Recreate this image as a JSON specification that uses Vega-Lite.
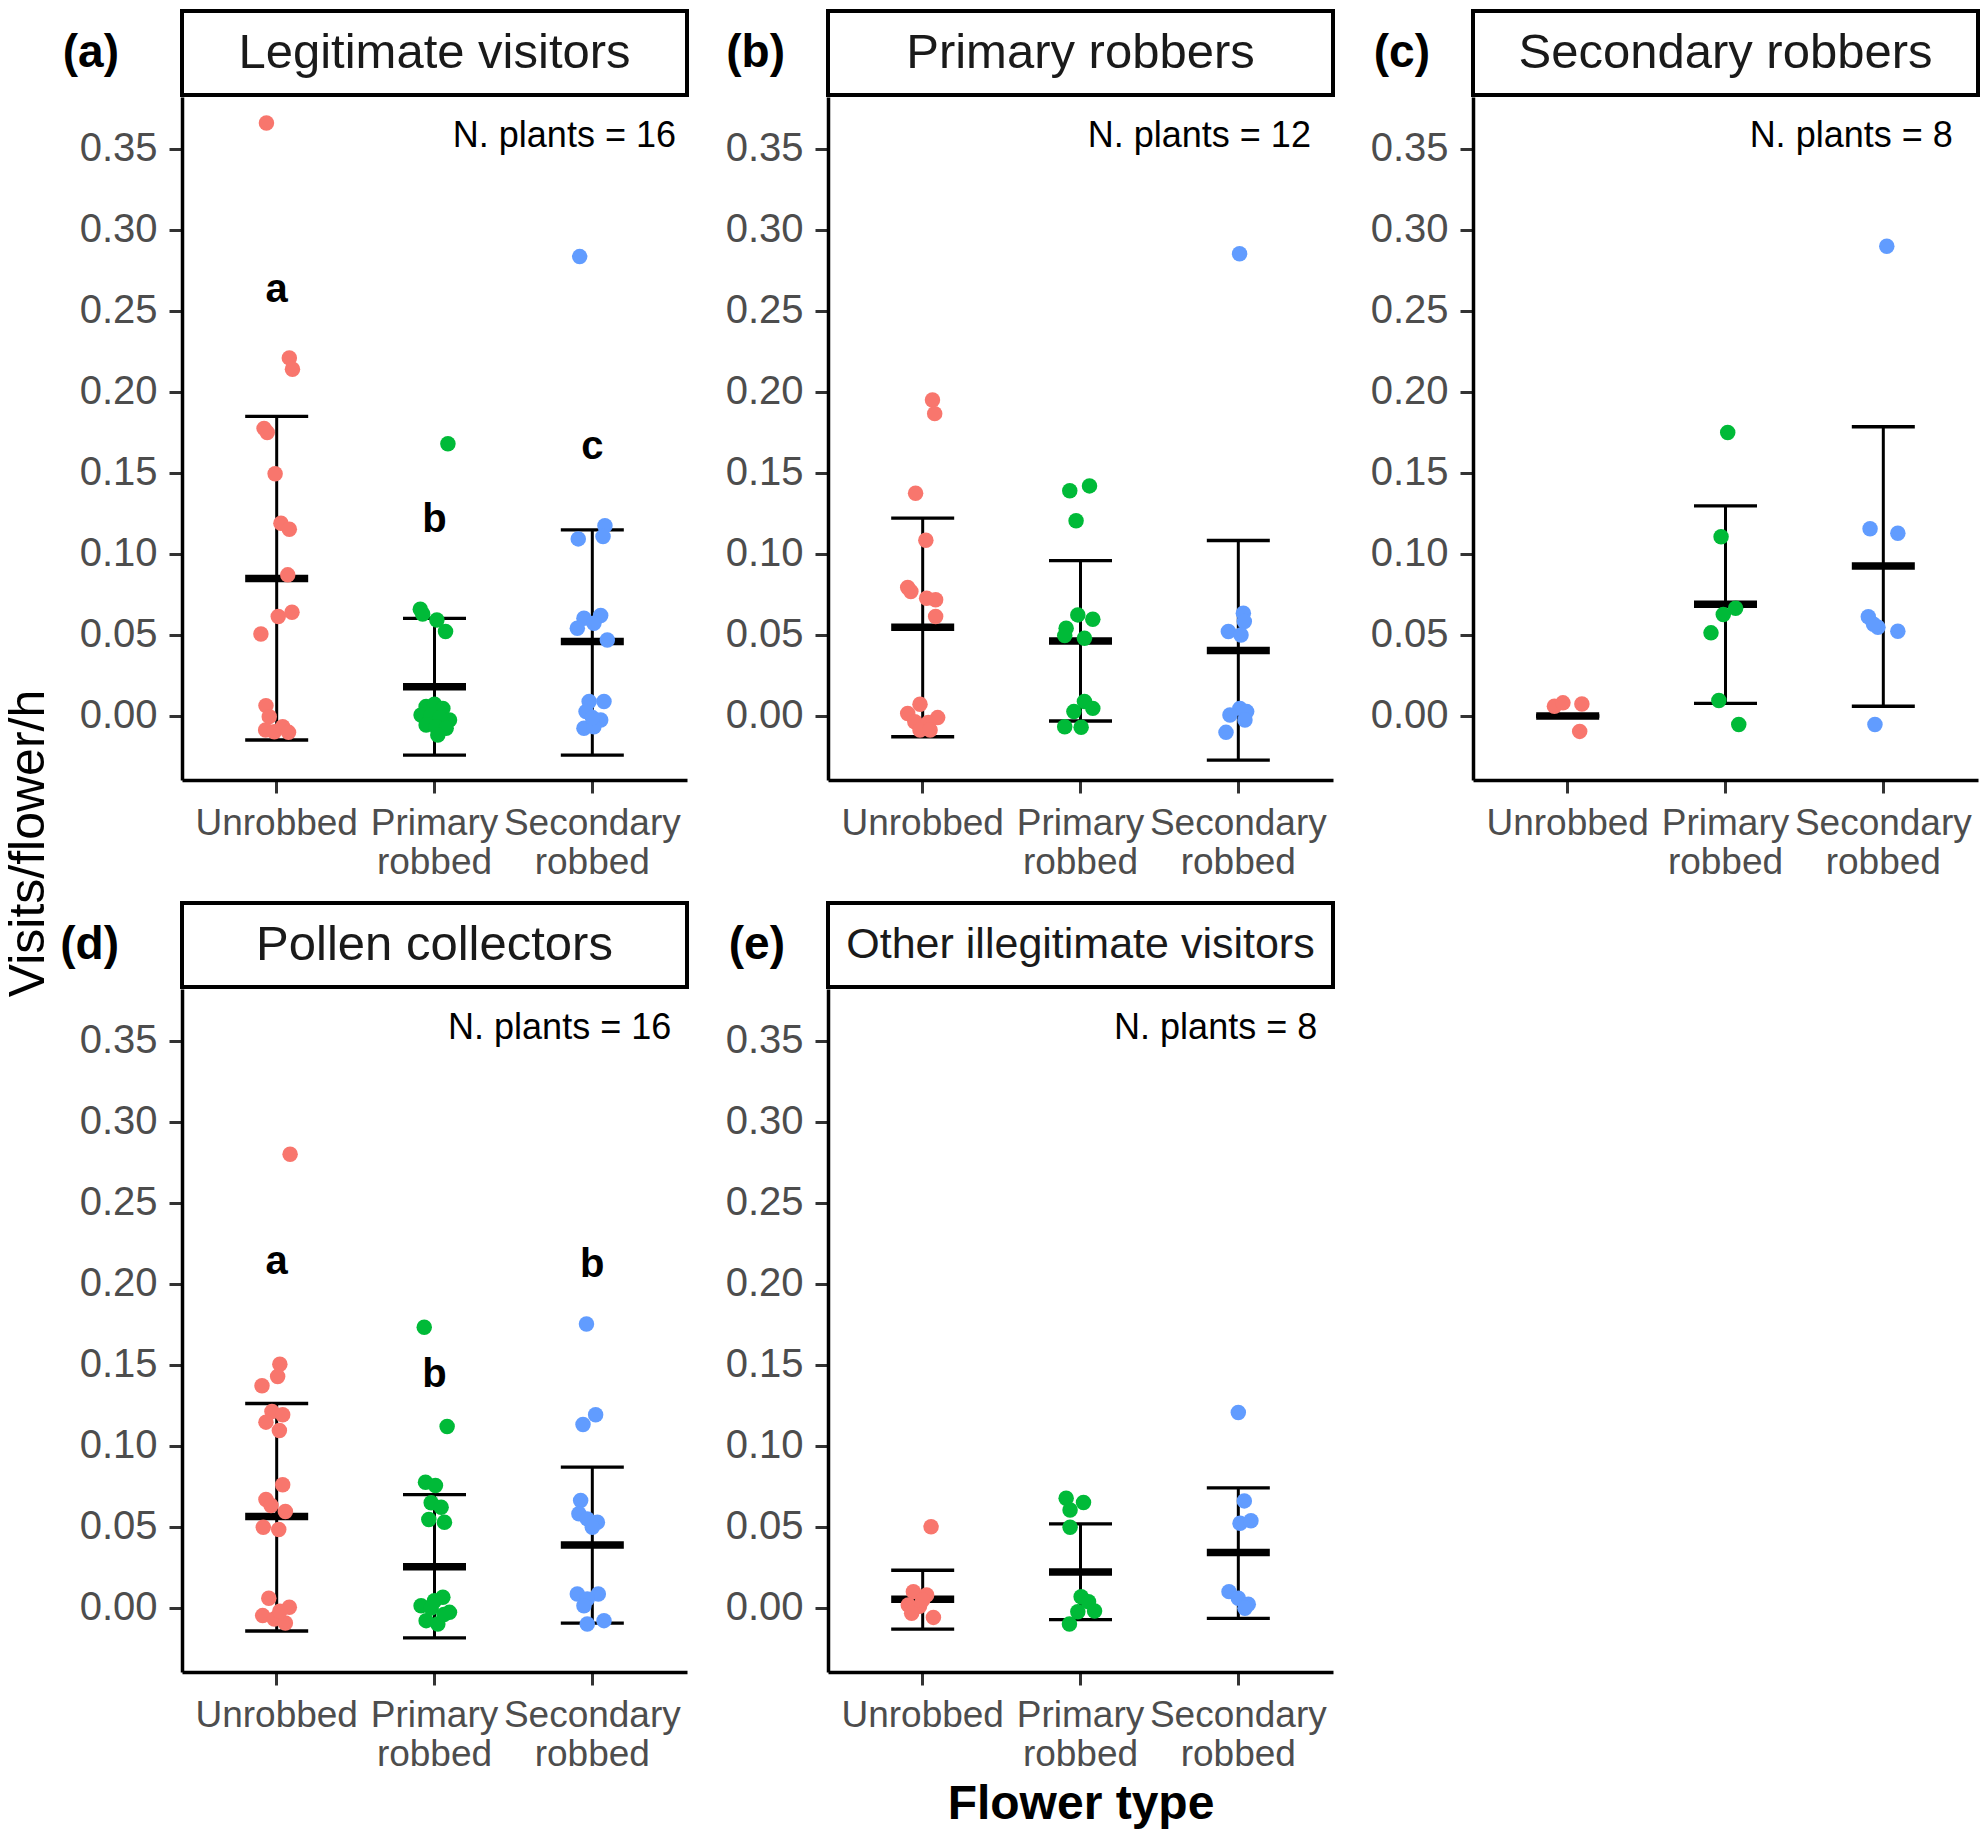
{
  "$schema": "https://vega.github.io/schema/vega-lite/v6.json",
  "padding": {"left": 4, "top": 9, "right": 5, "bottom": 5},
  "background": "white",
  "title": {"text": "Visits/flower/h", "orient": "left", "anchor": "middle", "fontSize": 50, "fontWeight": "normal", "font": "Liberation Sans", "color": "black", "offset": 4, "dx": 75},
  "datasets": {
    "strips": [
      {"p": "a", "strip": "Legitimate visitors", "n": "N. plants = 16"},
      {"p": "b", "strip": "Primary robbers", "n": "N. plants = 12"},
      {"p": "c", "strip": "Secondary robbers", "n": "N. plants = 8"},
      {"p": "d", "strip": "Pollen collectors", "n": "N. plants = 16"},
      {"p": "e", "strip": "Other illegitimate visitors", "n": "N. plants = 8"}
    ],
    "let": [
      {"p": "a", "type": "Unrobbed", "letter": "a", "ly": 0.263},
      {"p": "a", "type": "Primary robbed", "letter": "b", "ly": 0.121},
      {"p": "a", "type": "Secondary robbed", "letter": "c", "ly": 0.1657},
      {"p": "d", "type": "Unrobbed", "letter": "a", "ly": 0.2136},
      {"p": "d", "type": "Primary robbed", "letter": "b", "ly": 0.144},
      {"p": "d", "type": "Secondary robbed", "letter": "b", "ly": 0.2117}
    ],
    "sum": [
      {"p": "a", "type": "Unrobbed", "mean": 0.0848, "lo": -0.0148, "hi": 0.1849},
      {"p": "a", "type": "Primary robbed", "mean": 0.0181, "lo": -0.0241, "hi": 0.0603},
      {"p": "a", "type": "Secondary robbed", "mean": 0.0459, "lo": -0.0241, "hi": 0.1149},
      {"p": "b", "type": "Unrobbed", "mean": 0.0548, "lo": -0.0128, "hi": 0.1221},
      {"p": "b", "type": "Primary robbed", "mean": 0.0463, "lo": -0.0031, "hi": 0.0959},
      {"p": "b", "type": "Secondary robbed", "mean": 0.0404, "lo": -0.0272, "hi": 0.1083},
      {"p": "c", "type": "Unrobbed", "mean": 0.0, "lo": 0.0, "hi": 0.0},
      {"p": "c", "type": "Primary robbed", "mean": 0.0689, "lo": 0.0078, "hi": 0.1297},
      {"p": "c", "type": "Secondary robbed", "mean": 0.0926, "lo": 0.006, "hi": 0.1785},
      {"p": "d", "type": "Unrobbed", "mean": 0.0564, "lo": -0.0142, "hi": 0.1262},
      {"p": "d", "type": "Primary robbed", "mean": 0.0255, "lo": -0.0185, "hi": 0.07},
      {"p": "d", "type": "Secondary robbed", "mean": 0.0389, "lo": -0.0093, "hi": 0.0869},
      {"p": "e", "type": "Unrobbed", "mean": 0.0054, "lo": -0.013, "hi": 0.0233},
      {"p": "e", "type": "Primary robbed", "mean": 0.0222, "lo": -0.0072, "hi": 0.0519},
      {"p": "e", "type": "Secondary robbed", "mean": 0.0342, "lo": -0.0064, "hi": 0.0741}
    ],
    "pts": [
      {"p": "a", "type": "Unrobbed", "v": 0.366, "j": -0.065},
      {"p": "a", "type": "Unrobbed", "v": 0.221, "j": 0.08},
      {"p": "a", "type": "Unrobbed", "v": 0.214, "j": 0.10},
      {"p": "a", "type": "Unrobbed", "v": 0.1775, "j": -0.08},
      {"p": "a", "type": "Unrobbed", "v": 0.175, "j": -0.06},
      {"p": "a", "type": "Unrobbed", "v": 0.1495, "j": -0.01},
      {"p": "a", "type": "Unrobbed", "v": 0.119, "j": 0.027},
      {"p": "a", "type": "Unrobbed", "v": 0.1153, "j": 0.08},
      {"p": "a", "type": "Unrobbed", "v": 0.0871, "j": 0.07},
      {"p": "a", "type": "Unrobbed", "v": 0.064, "j": 0.097},
      {"p": "a", "type": "Unrobbed", "v": 0.0614, "j": 0.01},
      {"p": "a", "type": "Unrobbed", "v": 0.0506, "j": -0.1},
      {"p": "a", "type": "Unrobbed", "v": 0.0064, "j": -0.068},
      {"p": "a", "type": "Unrobbed", "v": -0.0004, "j": -0.047},
      {"p": "a", "type": "Unrobbed", "v": -0.0086, "j": -0.07},
      {"p": "a", "type": "Unrobbed", "v": -0.0097, "j": -0.015},
      {"p": "a", "type": "Unrobbed", "v": -0.0066, "j": 0.038},
      {"p": "a", "type": "Unrobbed", "v": -0.0101, "j": 0.075},
      {"p": "a", "type": "Primary robbed", "v": 0.168, "j": 0.085},
      {"p": "a", "type": "Primary robbed", "v": 0.0659, "j": -0.09},
      {"p": "a", "type": "Primary robbed", "v": 0.063, "j": -0.075},
      {"p": "a", "type": "Primary robbed", "v": 0.0593, "j": 0.015},
      {"p": "a", "type": "Primary robbed", "v": 0.0521, "j": 0.07},
      {"p": "a", "type": "Primary robbed", "v": 0.0058, "j": -0.053},
      {"p": "a", "type": "Primary robbed", "v": 0.0072, "j": 0.0},
      {"p": "a", "type": "Primary robbed", "v": 0.0047, "j": 0.053},
      {"p": "a", "type": "Primary robbed", "v": 0.0006, "j": -0.085},
      {"p": "a", "type": "Primary robbed", "v": 0.0006, "j": -0.021},
      {"p": "a", "type": "Primary robbed", "v": -0.0025, "j": 0.095},
      {"p": "a", "type": "Primary robbed", "v": -0.0014, "j": 0.032},
      {"p": "a", "type": "Primary robbed", "v": -0.0056, "j": -0.053},
      {"p": "a", "type": "Primary robbed", "v": -0.0066, "j": 0.01},
      {"p": "a", "type": "Primary robbed", "v": -0.0076, "j": 0.074},
      {"p": "a", "type": "Primary robbed", "v": -0.0117, "j": 0.021},
      {"p": "a", "type": "Secondary robbed", "v": 0.2835, "j": -0.08},
      {"p": "a", "type": "Secondary robbed", "v": 0.1174, "j": 0.08},
      {"p": "a", "type": "Secondary robbed", "v": 0.1108, "j": 0.068},
      {"p": "a", "type": "Secondary robbed", "v": 0.1093, "j": -0.089},
      {"p": "a", "type": "Secondary robbed", "v": 0.062, "j": 0.053},
      {"p": "a", "type": "Secondary robbed", "v": 0.0603, "j": -0.053},
      {"p": "a", "type": "Secondary robbed", "v": 0.0572, "j": 0.01},
      {"p": "a", "type": "Secondary robbed", "v": 0.0541, "j": -0.095},
      {"p": "a", "type": "Secondary robbed", "v": 0.0469, "j": 0.095},
      {"p": "a", "type": "Secondary robbed", "v": 0.0089, "j": -0.02},
      {"p": "a", "type": "Secondary robbed", "v": 0.0089, "j": 0.074},
      {"p": "a", "type": "Secondary robbed", "v": 0.0027, "j": -0.04},
      {"p": "a", "type": "Secondary robbed", "v": -0.0025, "j": 0.053},
      {"p": "a", "type": "Secondary robbed", "v": -0.0076, "j": -0.053},
      {"p": "a", "type": "Secondary robbed", "v": -0.0066, "j": 0.01},
      {"p": "a", "type": "Secondary robbed", "v": -0.001, "j": 0.0},
      {"p": "b", "type": "Unrobbed", "v": 0.195, "j": 0.062},
      {"p": "b", "type": "Unrobbed", "v": 0.1866, "j": 0.076},
      {"p": "b", "type": "Unrobbed", "v": 0.1375, "j": -0.045},
      {"p": "b", "type": "Unrobbed", "v": 0.1085, "j": 0.02},
      {"p": "b", "type": "Unrobbed", "v": 0.0793, "j": -0.095},
      {"p": "b", "type": "Unrobbed", "v": 0.0768, "j": -0.075},
      {"p": "b", "type": "Unrobbed", "v": 0.0727, "j": 0.025},
      {"p": "b", "type": "Unrobbed", "v": 0.0717, "j": 0.082},
      {"p": "b", "type": "Unrobbed", "v": 0.0614, "j": 0.082},
      {"p": "b", "type": "Unrobbed", "v": 0.0072, "j": -0.017},
      {"p": "b", "type": "Unrobbed", "v": 0.0016, "j": -0.095},
      {"p": "b", "type": "Unrobbed", "v": -0.001, "j": 0.095},
      {"p": "b", "type": "Unrobbed", "v": -0.0035, "j": -0.05},
      {"p": "b", "type": "Unrobbed", "v": -0.004, "j": 0.036},
      {"p": "b", "type": "Unrobbed", "v": -0.0086, "j": -0.017},
      {"p": "b", "type": "Unrobbed", "v": -0.0086, "j": 0.047},
      {"p": "b", "type": "Primary robbed", "v": 0.139, "j": -0.068},
      {"p": "b", "type": "Primary robbed", "v": 0.142, "j": 0.057},
      {"p": "b", "type": "Primary robbed", "v": 0.1205, "j": -0.028},
      {"p": "b", "type": "Primary robbed", "v": 0.0624, "j": -0.017},
      {"p": "b", "type": "Primary robbed", "v": 0.0597, "j": 0.078},
      {"p": "b", "type": "Primary robbed", "v": 0.0541, "j": -0.091},
      {"p": "b", "type": "Primary robbed", "v": 0.0496, "j": -0.1},
      {"p": "b", "type": "Primary robbed", "v": 0.048, "j": 0.025},
      {"p": "b", "type": "Primary robbed", "v": 0.0089, "j": 0.025},
      {"p": "b", "type": "Primary robbed", "v": 0.0047, "j": 0.078},
      {"p": "b", "type": "Primary robbed", "v": 0.0027, "j": -0.042},
      {"p": "b", "type": "Primary robbed", "v": -0.0066, "j": -0.1},
      {"p": "b", "type": "Primary robbed", "v": -0.007, "j": 0.004},
      {"p": "b", "type": "Secondary robbed", "v": 0.2853, "j": 0.008},
      {"p": "b", "type": "Secondary robbed", "v": 0.0634, "j": 0.032},
      {"p": "b", "type": "Secondary robbed", "v": 0.0583, "j": 0.038},
      {"p": "b", "type": "Secondary robbed", "v": 0.0521, "j": -0.063},
      {"p": "b", "type": "Secondary robbed", "v": 0.05, "j": 0.017},
      {"p": "b", "type": "Secondary robbed", "v": 0.0047, "j": 0.01},
      {"p": "b", "type": "Secondary robbed", "v": 0.0027, "j": 0.053},
      {"p": "b", "type": "Secondary robbed", "v": 0.0006, "j": -0.053},
      {"p": "b", "type": "Secondary robbed", "v": -0.0025, "j": 0.042},
      {"p": "b", "type": "Secondary robbed", "v": -0.0101, "j": -0.078},
      {"p": "c", "type": "Unrobbed", "v": 0.006, "j": -0.084},
      {"p": "c", "type": "Unrobbed", "v": 0.0081, "j": -0.03},
      {"p": "c", "type": "Unrobbed", "v": 0.0074, "j": 0.09},
      {"p": "c", "type": "Unrobbed", "v": -0.0095, "j": 0.076},
      {"p": "c", "type": "Primary robbed", "v": 0.175, "j": 0.014},
      {"p": "c", "type": "Primary robbed", "v": 0.1106, "j": -0.028},
      {"p": "c", "type": "Primary robbed", "v": 0.0665, "j": 0.064},
      {"p": "c", "type": "Primary robbed", "v": 0.0626, "j": -0.014},
      {"p": "c", "type": "Primary robbed", "v": 0.0513, "j": -0.092},
      {"p": "c", "type": "Primary robbed", "v": 0.0095, "j": -0.042},
      {"p": "c", "type": "Primary robbed", "v": -0.0053, "j": 0.084},
      {"p": "c", "type": "Secondary robbed", "v": 0.2899, "j": 0.022},
      {"p": "c", "type": "Secondary robbed", "v": 0.1156, "j": -0.084},
      {"p": "c", "type": "Secondary robbed", "v": 0.1128, "j": 0.092},
      {"p": "c", "type": "Secondary robbed", "v": 0.0612, "j": -0.095},
      {"p": "c", "type": "Secondary robbed", "v": 0.0548, "j": -0.034},
      {"p": "c", "type": "Secondary robbed", "v": 0.0566, "j": -0.062},
      {"p": "c", "type": "Secondary robbed", "v": 0.0523, "j": 0.092},
      {"p": "c", "type": "Secondary robbed", "v": -0.0053, "j": -0.053},
      {"p": "d", "type": "Unrobbed", "v": 0.28, "j": 0.085},
      {"p": "d", "type": "Unrobbed", "v": 0.1504, "j": 0.02},
      {"p": "d", "type": "Unrobbed", "v": 0.1429, "j": 0.006},
      {"p": "d", "type": "Unrobbed", "v": 0.1372, "j": -0.093},
      {"p": "d", "type": "Unrobbed", "v": 0.1213, "j": -0.03},
      {"p": "d", "type": "Unrobbed", "v": 0.1192, "j": 0.038},
      {"p": "d", "type": "Unrobbed", "v": 0.1147, "j": -0.068},
      {"p": "d", "type": "Unrobbed", "v": 0.1095, "j": 0.017},
      {"p": "d", "type": "Unrobbed", "v": 0.076, "j": 0.038},
      {"p": "d", "type": "Unrobbed", "v": 0.0669, "j": -0.068},
      {"p": "d", "type": "Unrobbed", "v": 0.0632, "j": -0.036},
      {"p": "d", "type": "Unrobbed", "v": 0.0595, "j": 0.055},
      {"p": "d", "type": "Unrobbed", "v": 0.0498, "j": -0.085},
      {"p": "d", "type": "Unrobbed", "v": 0.0484, "j": 0.013},
      {"p": "d", "type": "Unrobbed", "v": 0.006, "j": -0.05},
      {"p": "d", "type": "Unrobbed", "v": 0.0004, "j": 0.08},
      {"p": "d", "type": "Unrobbed", "v": -0.0047, "j": -0.089},
      {"p": "d", "type": "Unrobbed", "v": -0.0068, "j": -0.015},
      {"p": "d", "type": "Unrobbed", "v": -0.0093, "j": 0.055},
      {"p": "d", "type": "Unrobbed", "v": -0.002, "j": 0.02},
      {"p": "d", "type": "Primary robbed", "v": 0.1733, "j": -0.065},
      {"p": "d", "type": "Primary robbed", "v": 0.112, "j": 0.08},
      {"p": "d", "type": "Primary robbed", "v": 0.0776, "j": -0.057},
      {"p": "d", "type": "Primary robbed", "v": 0.0756, "j": 0.006},
      {"p": "d", "type": "Primary robbed", "v": 0.0649, "j": -0.021},
      {"p": "d", "type": "Primary robbed", "v": 0.0622, "j": 0.042},
      {"p": "d", "type": "Primary robbed", "v": 0.0546, "j": -0.036},
      {"p": "d", "type": "Primary robbed", "v": 0.0529, "j": 0.063},
      {"p": "d", "type": "Primary robbed", "v": 0.0066, "j": 0.053},
      {"p": "d", "type": "Primary robbed", "v": 0.0014, "j": -0.085},
      {"p": "d", "type": "Primary robbed", "v": 0.0045, "j": 0.0},
      {"p": "d", "type": "Primary robbed", "v": -0.0027, "j": 0.095},
      {"p": "d", "type": "Primary robbed", "v": -0.0078, "j": -0.053},
      {"p": "d", "type": "Primary robbed", "v": -0.0099, "j": 0.021},
      {"p": "d", "type": "Primary robbed", "v": 0.0, "j": -0.021},
      {"p": "d", "type": "Primary robbed", "v": -0.004, "j": 0.06},
      {"p": "d", "type": "Secondary robbed", "v": 0.1752, "j": -0.037},
      {"p": "d", "type": "Secondary robbed", "v": 0.1192, "j": 0.021},
      {"p": "d", "type": "Secondary robbed", "v": 0.1132, "j": -0.059},
      {"p": "d", "type": "Secondary robbed", "v": 0.0663, "j": -0.074},
      {"p": "d", "type": "Secondary robbed", "v": 0.0581, "j": -0.085},
      {"p": "d", "type": "Secondary robbed", "v": 0.055, "j": -0.032},
      {"p": "d", "type": "Secondary robbed", "v": 0.0529, "j": 0.032},
      {"p": "d", "type": "Secondary robbed", "v": 0.0498, "j": 0.0},
      {"p": "d", "type": "Secondary robbed", "v": 0.0086, "j": -0.095},
      {"p": "d", "type": "Secondary robbed", "v": 0.0086, "j": 0.038},
      {"p": "d", "type": "Secondary robbed", "v": 0.0056, "j": -0.032},
      {"p": "d", "type": "Secondary robbed", "v": 0.0014, "j": -0.053},
      {"p": "d", "type": "Secondary robbed", "v": -0.0099, "j": -0.032},
      {"p": "d", "type": "Secondary robbed", "v": -0.0078, "j": 0.074},
      {"p": "e", "type": "Unrobbed", "v": 0.0502, "j": 0.053},
      {"p": "e", "type": "Unrobbed", "v": 0.0101, "j": -0.059},
      {"p": "e", "type": "Unrobbed", "v": 0.008, "j": 0.025},
      {"p": "e", "type": "Unrobbed", "v": 0.0019, "j": -0.091},
      {"p": "e", "type": "Unrobbed", "v": 0.001, "j": -0.02},
      {"p": "e", "type": "Unrobbed", "v": -0.0033, "j": -0.07},
      {"p": "e", "type": "Unrobbed", "v": -0.0058, "j": 0.068},
      {"p": "e", "type": "Unrobbed", "v": 0.005, "j": 0.0},
      {"p": "e", "type": "Primary robbed", "v": 0.0677, "j": -0.091},
      {"p": "e", "type": "Primary robbed", "v": 0.0651, "j": 0.019},
      {"p": "e", "type": "Primary robbed", "v": 0.0605, "j": -0.066},
      {"p": "e", "type": "Primary robbed", "v": 0.0498, "j": -0.066},
      {"p": "e", "type": "Primary robbed", "v": 0.007, "j": 0.004},
      {"p": "e", "type": "Primary robbed", "v": 0.0039, "j": 0.051},
      {"p": "e", "type": "Primary robbed", "v": -0.0019, "j": 0.089},
      {"p": "e", "type": "Primary robbed", "v": -0.0023, "j": -0.017},
      {"p": "e", "type": "Primary robbed", "v": -0.0099, "j": -0.07},
      {"p": "e", "type": "Secondary robbed", "v": 0.1207, "j": 0.0},
      {"p": "e", "type": "Secondary robbed", "v": 0.0661, "j": 0.038},
      {"p": "e", "type": "Secondary robbed", "v": 0.0523, "j": 0.011},
      {"p": "e", "type": "Secondary robbed", "v": 0.0539, "j": 0.08},
      {"p": "e", "type": "Secondary robbed", "v": 0.0101, "j": -0.059},
      {"p": "e", "type": "Secondary robbed", "v": 0.006, "j": 0.0},
      {"p": "e", "type": "Secondary robbed", "v": 0.0023, "j": 0.063},
      {"p": "e", "type": "Secondary robbed", "v": -0.0002, "j": 0.042}
    ]
  },
  "columns": 3,
  "align": "each",
  "spacing": {"row": 21, "column": 35},
  "concat": [
    {"spacing": 0, "vconcat": [
      {"width": 505, "height": 84, "data": {"name": "strips"}, "transform": [{"filter": "datum.p == 'a'"}],
       "view": {"stroke": "black", "strokeWidth": 4},
       "title": {"text": "(a)", "orient": "left", "angle": 0, "align": "left", "baseline": "middle", "anchor": "middle", "offset": 63, "fontSize": 46, "fontWeight": "bold", "color": "black"},
       "mark": {"type": "text", "fontSize": 49, "color": "#1A1A1A"},
       "encoding": {"text": {"field": "strip"}}},
      {"width": 505, "height": 683, "layer": [
        {"data": {"name": "sum"}, "transform": [{"filter": "datum.p == 'a'"}], "mark": {"type": "rule", "strokeWidth": 3, "color": "black"},
         "encoding": {"x": {"field": "type", "type": "nominal", "scale": {"domain": ["Unrobbed", "Primary robbed", "Secondary robbed"], "paddingInner": 0, "paddingOuter": 0.1}, "axis": {"title": null, "labelExpr": "split(datum.label, ' ')", "bandPosition": 0.5}},
          "y": {"field": "lo", "type": "quantitative", "title": null, "scale": {"domain": [-0.0395, 0.382], "nice": false, "zero": false}, "axis": {"values": [0, 0.05, 0.1, 0.15, 0.2, 0.25, 0.3, 0.35], "format": ".2f"}},
          "y2": {"field": "hi"}}},
        {"data": {"name": "sum"}, "transform": [{"filter": "datum.p == 'a'"}], "mark": {"type": "tick", "thickness": 3.3, "size": 63, "color": "black", "opacity": 1}, "encoding": {"x": {"field": "type", "type": "nominal"}, "y": {"field": "lo", "type": "quantitative", "title": null}}},
        {"data": {"name": "sum"}, "transform": [{"filter": "datum.p == 'a'"}], "mark": {"type": "tick", "thickness": 3.3, "size": 63, "color": "black", "opacity": 1}, "encoding": {"x": {"field": "type", "type": "nominal"}, "y": {"field": "hi", "type": "quantitative", "title": null}}},
        {"data": {"name": "sum"}, "transform": [{"filter": "datum.p == 'a'"}], "mark": {"type": "tick", "thickness": 7.5, "size": 63, "color": "black", "opacity": 1}, "encoding": {"x": {"field": "type", "type": "nominal"}, "y": {"field": "mean", "type": "quantitative", "title": null}}},
        {"data": {"name": "pts"}, "transform": [{"filter": "datum.p == 'a'"}], "mark": {"type": "circle", "size": 240, "opacity": 1},
         "encoding": {"x": {"field": "type", "type": "nominal"}, "xOffset": {"field": "j", "type": "quantitative", "scale": {"domain": [-0.5, 0.5]}}, "y": {"field": "v", "type": "quantitative", "title": null},
          "color": {"field": "type", "type": "nominal", "scale": {"domain": ["Unrobbed", "Primary robbed", "Secondary robbed"], "range": ["#F8766D", "#00BA38", "#619CFF"]}, "legend": null}}},
        {"data": {"name": "let"}, "transform": [{"filter": "datum.p == 'a'"}], "mark": {"type": "text", "fontSize": 40, "fontWeight": "bold", "baseline": "middle", "color": "black"}, "encoding": {"x": {"field": "type", "type": "nominal"}, "y": {"field": "ly", "type": "quantitative", "title": null}, "text": {"field": "letter"}}},
        {"data": {"name": "strips"}, "transform": [{"filter": "datum.p == 'a'"}], "mark": {"type": "text", "fontSize": 36, "align": "right", "baseline": "middle", "color": "black"}, "encoding": {"x": {"datum": "Secondary robbed", "type": "nominal"}, "xOffset": {"datum": 0.53, "type": "quantitative"}, "y": {"datum": 0.358, "type": "quantitative"}, "text": {"field": "n"}}}
      ]}
    ]},
    {"spacing": 0, "vconcat": [
      {"width": 505, "height": 84, "data": {"name": "strips"}, "transform": [{"filter": "datum.p == 'b'"}],
       "view": {"stroke": "black", "strokeWidth": 4},
       "title": {"text": "(b)", "orient": "left", "angle": 0, "align": "left", "baseline": "middle", "anchor": "middle", "offset": 43, "fontSize": 46, "fontWeight": "bold", "color": "black"},
       "mark": {"type": "text", "fontSize": 49, "color": "#1A1A1A"},
       "encoding": {"text": {"field": "strip"}}},
      {"width": 505, "height": 683, "layer": [
        {"data": {"name": "sum"}, "transform": [{"filter": "datum.p == 'b'"}], "mark": {"type": "rule", "strokeWidth": 3, "color": "black"},
         "encoding": {"x": {"field": "type", "type": "nominal", "scale": {"domain": ["Unrobbed", "Primary robbed", "Secondary robbed"], "paddingInner": 0, "paddingOuter": 0.1}, "axis": {"title": null, "labelExpr": "split(datum.label, ' ')", "bandPosition": 0.5}},
          "y": {"field": "lo", "type": "quantitative", "title": null, "scale": {"domain": [-0.0395, 0.382], "nice": false, "zero": false}, "axis": {"values": [0, 0.05, 0.1, 0.15, 0.2, 0.25, 0.3, 0.35], "format": ".2f"}},
          "y2": {"field": "hi"}}},
        {"data": {"name": "sum"}, "transform": [{"filter": "datum.p == 'b'"}], "mark": {"type": "tick", "thickness": 3.3, "size": 63, "color": "black", "opacity": 1}, "encoding": {"x": {"field": "type", "type": "nominal"}, "y": {"field": "lo", "type": "quantitative", "title": null}}},
        {"data": {"name": "sum"}, "transform": [{"filter": "datum.p == 'b'"}], "mark": {"type": "tick", "thickness": 3.3, "size": 63, "color": "black", "opacity": 1}, "encoding": {"x": {"field": "type", "type": "nominal"}, "y": {"field": "hi", "type": "quantitative", "title": null}}},
        {"data": {"name": "sum"}, "transform": [{"filter": "datum.p == 'b'"}], "mark": {"type": "tick", "thickness": 7.5, "size": 63, "color": "black", "opacity": 1}, "encoding": {"x": {"field": "type", "type": "nominal"}, "y": {"field": "mean", "type": "quantitative", "title": null}}},
        {"data": {"name": "pts"}, "transform": [{"filter": "datum.p == 'b'"}], "mark": {"type": "circle", "size": 240, "opacity": 1},
         "encoding": {"x": {"field": "type", "type": "nominal"}, "xOffset": {"field": "j", "type": "quantitative", "scale": {"domain": [-0.5, 0.5]}}, "y": {"field": "v", "type": "quantitative", "title": null},
          "color": {"field": "type", "type": "nominal", "scale": {"domain": ["Unrobbed", "Primary robbed", "Secondary robbed"], "range": ["#F8766D", "#00BA38", "#619CFF"]}, "legend": null}}},
        {"data": {"name": "strips"}, "transform": [{"filter": "datum.p == 'b'"}], "mark": {"type": "text", "fontSize": 36, "align": "right", "baseline": "middle", "color": "black"}, "encoding": {"x": {"datum": "Secondary robbed", "type": "nominal"}, "xOffset": {"datum": 0.46, "type": "quantitative"}, "y": {"datum": 0.358, "type": "quantitative"}, "text": {"field": "n"}}}
      ]}
    ]},
    {"spacing": 0, "vconcat": [
      {"width": 505, "height": 84, "data": {"name": "strips"}, "transform": [{"filter": "datum.p == 'c'"}],
       "view": {"stroke": "black", "strokeWidth": 4},
       "title": {"text": "(c)", "orient": "left", "angle": 0, "align": "left", "baseline": "middle", "anchor": "middle", "offset": 43, "fontSize": 46, "fontWeight": "bold", "color": "black"},
       "mark": {"type": "text", "fontSize": 49, "color": "#1A1A1A"},
       "encoding": {"text": {"field": "strip"}}},
      {"width": 505, "height": 683, "layer": [
        {"data": {"name": "sum"}, "transform": [{"filter": "datum.p == 'c'"}], "mark": {"type": "rule", "strokeWidth": 3, "color": "black"},
         "encoding": {"x": {"field": "type", "type": "nominal", "scale": {"domain": ["Unrobbed", "Primary robbed", "Secondary robbed"], "paddingInner": 0, "paddingOuter": 0.1}, "axis": {"title": null, "labelExpr": "split(datum.label, ' ')", "bandPosition": 0.5}},
          "y": {"field": "lo", "type": "quantitative", "title": null, "scale": {"domain": [-0.0395, 0.382], "nice": false, "zero": false}, "axis": {"values": [0, 0.05, 0.1, 0.15, 0.2, 0.25, 0.3, 0.35], "format": ".2f"}},
          "y2": {"field": "hi"}}},
        {"data": {"name": "sum"}, "transform": [{"filter": "datum.p == 'c'"}], "mark": {"type": "tick", "thickness": 3.3, "size": 63, "color": "black", "opacity": 1}, "encoding": {"x": {"field": "type", "type": "nominal"}, "y": {"field": "lo", "type": "quantitative", "title": null}}},
        {"data": {"name": "sum"}, "transform": [{"filter": "datum.p == 'c'"}], "mark": {"type": "tick", "thickness": 3.3, "size": 63, "color": "black", "opacity": 1}, "encoding": {"x": {"field": "type", "type": "nominal"}, "y": {"field": "hi", "type": "quantitative", "title": null}}},
        {"data": {"name": "sum"}, "transform": [{"filter": "datum.p == 'c'"}], "mark": {"type": "tick", "thickness": 7.5, "size": 63, "color": "black", "opacity": 1}, "encoding": {"x": {"field": "type", "type": "nominal"}, "y": {"field": "mean", "type": "quantitative", "title": null}}},
        {"data": {"name": "pts"}, "transform": [{"filter": "datum.p == 'c'"}], "mark": {"type": "circle", "size": 240, "opacity": 1},
         "encoding": {"x": {"field": "type", "type": "nominal"}, "xOffset": {"field": "j", "type": "quantitative", "scale": {"domain": [-0.5, 0.5]}}, "y": {"field": "v", "type": "quantitative", "title": null},
          "color": {"field": "type", "type": "nominal", "scale": {"domain": ["Unrobbed", "Primary robbed", "Secondary robbed"], "range": ["#F8766D", "#00BA38", "#619CFF"]}, "legend": null}}},
        {"data": {"name": "strips"}, "transform": [{"filter": "datum.p == 'c'"}], "mark": {"type": "text", "fontSize": 36, "align": "right", "baseline": "middle", "color": "black"}, "encoding": {"x": {"datum": "Secondary robbed", "type": "nominal"}, "xOffset": {"datum": 0.44, "type": "quantitative"}, "y": {"datum": 0.358, "type": "quantitative"}, "text": {"field": "n"}}}
      ]}
    ]},
    {"spacing": 0, "vconcat": [
      {"width": 505, "height": 84, "data": {"name": "strips"}, "transform": [{"filter": "datum.p == 'd'"}],
       "view": {"stroke": "black", "strokeWidth": 4},
       "title": {"text": "(d)", "orient": "left", "angle": 0, "align": "left", "baseline": "middle", "anchor": "middle", "offset": 63, "fontSize": 46, "fontWeight": "bold", "color": "black"},
       "mark": {"type": "text", "fontSize": 49, "color": "#1A1A1A"},
       "encoding": {"text": {"field": "strip"}}},
      {"width": 505, "height": 683, "layer": [
        {"data": {"name": "sum"}, "transform": [{"filter": "datum.p == 'd'"}], "mark": {"type": "rule", "strokeWidth": 3, "color": "black"},
         "encoding": {"x": {"field": "type", "type": "nominal", "scale": {"domain": ["Unrobbed", "Primary robbed", "Secondary robbed"], "paddingInner": 0, "paddingOuter": 0.1}, "axis": {"title": null, "labelExpr": "split(datum.label, ' ')", "bandPosition": 0.5}},
          "y": {"field": "lo", "type": "quantitative", "title": null, "scale": {"domain": [-0.0395, 0.382], "nice": false, "zero": false}, "axis": {"values": [0, 0.05, 0.1, 0.15, 0.2, 0.25, 0.3, 0.35], "format": ".2f"}},
          "y2": {"field": "hi"}}},
        {"data": {"name": "sum"}, "transform": [{"filter": "datum.p == 'd'"}], "mark": {"type": "tick", "thickness": 3.3, "size": 63, "color": "black", "opacity": 1}, "encoding": {"x": {"field": "type", "type": "nominal"}, "y": {"field": "lo", "type": "quantitative", "title": null}}},
        {"data": {"name": "sum"}, "transform": [{"filter": "datum.p == 'd'"}], "mark": {"type": "tick", "thickness": 3.3, "size": 63, "color": "black", "opacity": 1}, "encoding": {"x": {"field": "type", "type": "nominal"}, "y": {"field": "hi", "type": "quantitative", "title": null}}},
        {"data": {"name": "sum"}, "transform": [{"filter": "datum.p == 'd'"}], "mark": {"type": "tick", "thickness": 7.5, "size": 63, "color": "black", "opacity": 1}, "encoding": {"x": {"field": "type", "type": "nominal"}, "y": {"field": "mean", "type": "quantitative", "title": null}}},
        {"data": {"name": "pts"}, "transform": [{"filter": "datum.p == 'd'"}], "mark": {"type": "circle", "size": 240, "opacity": 1},
         "encoding": {"x": {"field": "type", "type": "nominal"}, "xOffset": {"field": "j", "type": "quantitative", "scale": {"domain": [-0.5, 0.5]}}, "y": {"field": "v", "type": "quantitative", "title": null},
          "color": {"field": "type", "type": "nominal", "scale": {"domain": ["Unrobbed", "Primary robbed", "Secondary robbed"], "range": ["#F8766D", "#00BA38", "#619CFF"]}, "legend": null}}},
        {"data": {"name": "let"}, "transform": [{"filter": "datum.p == 'd'"}], "mark": {"type": "text", "fontSize": 40, "fontWeight": "bold", "baseline": "middle", "color": "black"}, "encoding": {"x": {"field": "type", "type": "nominal"}, "y": {"field": "ly", "type": "quantitative", "title": null}, "text": {"field": "letter"}}},
        {"data": {"name": "strips"}, "transform": [{"filter": "datum.p == 'd'"}], "mark": {"type": "text", "fontSize": 36, "align": "right", "baseline": "middle", "color": "black"}, "encoding": {"x": {"datum": "Secondary robbed", "type": "nominal"}, "xOffset": {"datum": 0.5, "type": "quantitative"}, "y": {"datum": 0.358, "type": "quantitative"}, "text": {"field": "n"}}}
      ]}
    ]},
    {"spacing": 0, "vconcat": [
      {"width": 505, "height": 84, "data": {"name": "strips"}, "transform": [{"filter": "datum.p == 'e'"}],
       "view": {"stroke": "black", "strokeWidth": 4},
       "title": {"text": "(e)", "orient": "left", "angle": 0, "align": "left", "baseline": "middle", "anchor": "middle", "offset": 43, "fontSize": 46, "fontWeight": "bold", "color": "black"},
       "mark": {"type": "text", "fontSize": 43, "color": "#1A1A1A"},
       "encoding": {"text": {"field": "strip"}}},
      {"width": 505, "height": 683, "layer": [
        {"data": {"name": "sum"}, "transform": [{"filter": "datum.p == 'e'"}], "mark": {"type": "rule", "strokeWidth": 3, "color": "black"},
         "encoding": {"x": {"field": "type", "type": "nominal", "scale": {"domain": ["Unrobbed", "Primary robbed", "Secondary robbed"], "paddingInner": 0, "paddingOuter": 0.1}, "axis": {"title": "Flower type", "labelExpr": "split(datum.label, ' ')", "bandPosition": 0.5}},
          "y": {"field": "lo", "type": "quantitative", "title": null, "scale": {"domain": [-0.0395, 0.382], "nice": false, "zero": false}, "axis": {"values": [0, 0.05, 0.1, 0.15, 0.2, 0.25, 0.3, 0.35], "format": ".2f"}},
          "y2": {"field": "hi"}}},
        {"data": {"name": "sum"}, "transform": [{"filter": "datum.p == 'e'"}], "mark": {"type": "tick", "thickness": 3.3, "size": 63, "color": "black", "opacity": 1}, "encoding": {"x": {"field": "type", "type": "nominal"}, "y": {"field": "lo", "type": "quantitative", "title": null}}},
        {"data": {"name": "sum"}, "transform": [{"filter": "datum.p == 'e'"}], "mark": {"type": "tick", "thickness": 3.3, "size": 63, "color": "black", "opacity": 1}, "encoding": {"x": {"field": "type", "type": "nominal"}, "y": {"field": "hi", "type": "quantitative", "title": null}}},
        {"data": {"name": "sum"}, "transform": [{"filter": "datum.p == 'e'"}], "mark": {"type": "tick", "thickness": 7.5, "size": 63, "color": "black", "opacity": 1}, "encoding": {"x": {"field": "type", "type": "nominal"}, "y": {"field": "mean", "type": "quantitative", "title": null}}},
        {"data": {"name": "pts"}, "transform": [{"filter": "datum.p == 'e'"}], "mark": {"type": "circle", "size": 240, "opacity": 1},
         "encoding": {"x": {"field": "type", "type": "nominal"}, "xOffset": {"field": "j", "type": "quantitative", "scale": {"domain": [-0.5, 0.5]}}, "y": {"field": "v", "type": "quantitative", "title": null},
          "color": {"field": "type", "type": "nominal", "scale": {"domain": ["Unrobbed", "Primary robbed", "Secondary robbed"], "range": ["#F8766D", "#00BA38", "#619CFF"]}, "legend": null}}},
        {"data": {"name": "strips"}, "transform": [{"filter": "datum.p == 'e'"}], "mark": {"type": "text", "fontSize": 36, "align": "right", "baseline": "middle", "color": "black"}, "encoding": {"x": {"datum": "Secondary robbed", "type": "nominal"}, "xOffset": {"datum": 0.5, "type": "quantitative"}, "y": {"datum": 0.358, "type": "quantitative"}, "text": {"field": "n"}}}
      ]}
    ]}
  ],
  "config": {
    "font": "Liberation Sans",
    "view": {"stroke": null},
    "axis": {"grid": false, "domainColor": "black", "domainWidth": 3.5, "tickColor": "#333333", "tickWidth": 3, "tickSize": 13, "labelFont": "Liberation Sans", "labelFontSize": 40, "labelColor": "#4D4D4D", "labelPadding": 12, "titleFont": "Liberation Sans", "titleColor": "black"},
    "axisX": {"labelPadding": 12, "labelFontSize": 37, "labelAngle": 0, "labelLimit": 1000, "labelLineHeight": 39, "labelOverlap": false, "titleFontSize": 48, "titleFontWeight": "bold", "titlePadding": 8},
    "title": {"font": "Liberation Sans", "color": "black"}
  }
}
